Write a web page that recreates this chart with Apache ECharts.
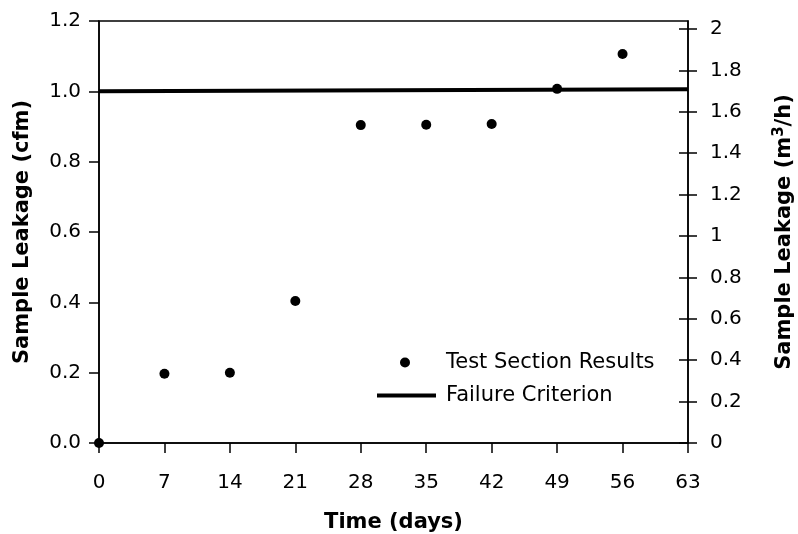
<!DOCTYPE html>
<html>
<head>
<meta charset="utf-8">
<script src="https://cdn.jsdelivr.net/npm/echarts@6/dist/echarts.min.js"></script>
<style>
  html, body { margin: 0; padding: 0; background: #fff; }
  #chart { width: 798px; height: 534px; }
</style>
</head>
<body>
<div id="chart"></div>
<script>
// data
const days = [0, 7, 14, 21, 28, 35, 42, 49, 56];
const leakage = [0, 0.197, 0.2, 0.404, 0.904, 0.905, 0.907, 1.007, 1.106];
const criterionDays = [0, 63];
const criterionValue = [1.0, 1.006];
const dayTicks = [0, 7, 14, 21, 28, 35, 42, 49, 56, 63];
const cfmTicks = [0, 0.2, 0.4, 0.6, 0.8, 1.0, 1.2];
const m3hTicks = [0, 0.2, 0.4, 0.6, 0.8, 1, 1.2, 1.4, 1.6, 1.8, 2];

const CFM_TO_M3H = 1.699;
const font = 'DejaVu Sans';
const ink = '#000';

const chart = echarts.init(document.getElementById('chart'));

const option = {
  animation: false,
  backgroundColor: '#fff',
  textStyle: { fontFamily: font, color: ink },
  grid: {
    left: 99, right: 110, top: 21, bottom: 91,
    outerBoundsMode: 'none',
    show: true, borderColor: '#000', borderWidth: 1.5
  },
  legend: [
    {
      data: [{ name: 'Test Section Results', icon: 'circle' }],
      left: 400, top: 352, padding: 0,
      itemWidth: 10, itemHeight: 10,
      selectedMode: false,
      textStyle: { fontFamily: font, fontSize: 21, color: ink, padding: [0, 0, 0, 31] }
    },
    {
      data: [{ name: 'Failure Criterion', icon: 'rect' }],
      left: 377, top: 385, padding: 0,
      itemWidth: 59, itemHeight: 4,
      selectedMode: false,
      textStyle: { fontFamily: font, fontSize: 21, color: ink, padding: [0, 0, 0, 5] }
    }
  ],
  xAxis: {
    type: 'value',
    min: dayTicks[0], max: dayTicks[dayTicks.length - 1], interval: 7,
    name: 'Time (days)',
    nameLocation: 'middle', nameGap: 69, nameMoveOverlap: false,
    nameTextStyle: { fontFamily: font, fontSize: 21, fontWeight: 'bold', color: ink },
    axisLine: { lineStyle: { color: '#000', width: 1.5 } },
    axisTick: { length: 10, lineStyle: { color: '#000', width: 1.5 } },
    axisLabel: { fontFamily: font, fontSize: 20, color: ink, margin: 30 },
    splitLine: { show: false }
  },
  yAxis: [
    {
      type: 'value',
      min: cfmTicks[0], max: cfmTicks[cfmTicks.length - 1], interval: 0.2,
      name: 'Sample Leakage (cfm)',
      nameLocation: 'middle', nameGap: 66, nameMoveOverlap: false,
      nameTextStyle: { fontFamily: font, fontSize: 21, fontWeight: 'bold', color: ink },
      axisLine: { show: true, lineStyle: { color: '#000', width: 1.5 } },
      axisTick: { show: true, length: 10, lineStyle: { color: '#000', width: 1.5 } },
      axisLabel: {
        fontFamily: font, fontSize: 20, color: ink, margin: 18,
        formatter: v => v.toFixed(1)
      },
      splitLine: { show: false }
    },
    {
      type: 'value',
      position: 'right',
      min: 0, max: 1.2 * CFM_TO_M3H,
      name: 'Sample Leakage (m{sup|3}/h)',
      nameLocation: 'middle', nameGap: 84, nameRotate: 90, nameMoveOverlap: false,
      nameTextStyle: {
        fontFamily: font, fontSize: 21, fontWeight: 'bold', color: ink, lineHeight: 26,
        rich: {
          sup: { fontFamily: font, fontSize: 15, fontWeight: 'bold', color: ink, verticalAlign: 'top', lineHeight: 18 }
        }
      },
      axisLine: { show: true, lineStyle: { color: '#000', width: 1.5 } },
      axisTick: { show: true, length: 9, customValues: m3hTicks, lineStyle: { color: '#000', width: 1.5 } },
      axisLabel: {
        fontFamily: font, fontSize: 20, color: ink, margin: 22,
        customValues: m3hTicks, formatter: v => String(+v.toFixed(1))
      },
      splitLine: { show: false }
    },
    {
      // inner half of the crossing ticks on the right axis
      type: 'value',
      position: 'right',
      min: 0, max: 1.2 * CFM_TO_M3H,
      axisLine: { show: false },
      axisTick: { show: true, inside: true, length: 9, customValues: m3hTicks, lineStyle: { color: '#000', width: 1.5 } },
      axisLabel: { show: false },
      splitLine: { show: false }
    }
  ],
  series: [
    {
      name: 'Failure Criterion',
      type: 'line',
      data: criterionDays.map((d, i) => [d, criterionValue[i]]),
      showSymbol: false,
      symbol: 'none',
      lineStyle: { color: '#000', width: 4 },
      itemStyle: { color: '#000' },
      z: 2
    },
    {
      name: 'Test Section Results',
      type: 'scatter',
      data: days.map((d, i) => [d, leakage[i]]),
      symbolSize: 10,
      clip: false,
      itemStyle: { color: '#000', opacity: 1 },
      z: 3
    }
  ]
};

chart.setOption(option);
</script>
</body>
</html>
